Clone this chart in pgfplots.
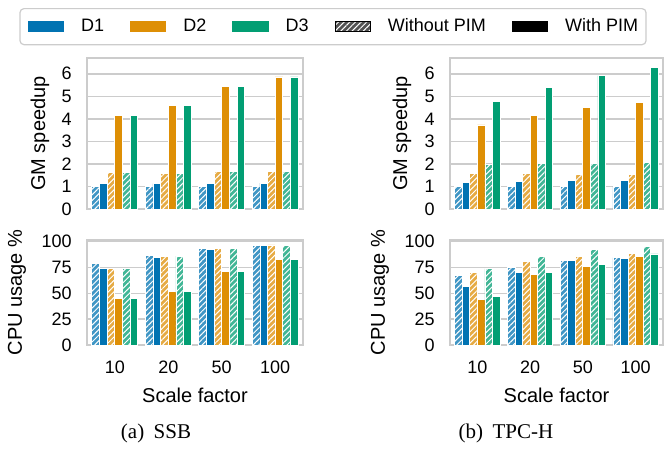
\documentclass[border=0pt]{standalone}
\usepackage{pgfplots}
\pgfplotsset{compat=1.18}
\usepackage{pgfplotstable}
\usetikzlibrary{patterns.meta}
\usepackage{fontspec}
\setmainfont{Liberation Sans}
\newfontfamily\capfont{Liberation Serif}
\definecolor{D1}{HTML}{0173B2}
\definecolor{D2}{HTML}{DE8F05}
\definecolor{D3}{HTML}{029E73}
\definecolor{gridc}{HTML}{CCCCCC}

\pgfplotstableread{
x d1h d1s d2h d2s d3h d3s
0 1.00 1.12 1.63 4.17 1.63 4.17
1 1.00 1.13 1.57 4.60 1.57 4.60
2 0.99 1.15 1.66 5.44 1.66 5.44
3 1.00 1.15 1.68 5.86 1.68 5.86
}\ssbsp
\pgfplotstableread{
x d1h d1s d2h d2s d3h d3s
0 1.00 1.19 1.56 3.73 1.99 4.78
1 1.00 1.22 1.56 4.14 2.04 5.40
2 1.00 1.27 1.52 4.51 2.04 5.92
3 1.00 1.25 1.55 4.73 2.08 6.29
}\tpcsp
\pgfplotstableread{
x d1h d1s d2h d2s d3h d3s
0 78.7 74.4 73.8 45.4 73.8 45.4
1 86.7 84.5 86.0 51.8 86.0 51.8
2 93.2 92.5 93.2 71.2 93.2 71.2
3 96.1 96.0 96.7 82.7 96.4 82.7
}\ssbcpu
\pgfplotstableread{
x d1h d1s d2h d2s d3h d3s
0 67.3 57.0 70.0 44.4 73.8 46.7
1 74.8 70.5 80.6 68.0 85.8 70.5
2 81.6 81.6 85.8 76.1 92.2 78.3
3 84.5 83.8 88.3 85.8 95.4 88.0
}\tpccpu

\pgfplotsset{
  base/.style={
    scale only axis, ybar, bar width=0.143,
    xmin=-0.52, xmax=3.52, ymin=0,
    axis line style={gridc, line width=0.9pt},
    ymajorgrids, grid style={gridc, line width=0.75pt},
    major tick length=0, tick style={draw=none},
    ticklabel style={font=\fontsize{9}{10}\selectfont},
    /pgf/number format/assume math mode=true,
    yticklabel style={anchor=east, inner sep=0pt, xshift=-7.5pt},
    label style={font=\fontsize{10}{12}\selectfont},
    clip=false,
  },
  topax/.style={base, height=75.5pt, ymax=6.7, ytick={0,1,2,3,4,5,6}, xtick=\empty,
    ylabel={GM speedup}},
  botax/.style={base, height=52.5pt, ymax=101.5, ytick={0,25,50,75,100},
    xtick={0,1,2,3}, xticklabels={10,20,50,100},
    xticklabel style={anchor=center, inner sep=0pt, yshift=-11pt},
    xlabel={Scale factor},
    xlabel style={at={(axis description cs:0.5,-0.476)}, anchor=center},
    ylabel={CPU usage \%}},
  hb/.style={fill=#1!75!white, draw=white, line width=0.4pt,
    postaction={pattern={Lines[angle=45,distance=2pt,line width=0.5pt]}, pattern color=white}, forget plot},
  sb/.style={fill=#1, draw=white, line width=0.4pt, forget plot},
}

\newcommand{\bars}[1]{%
  \addplot[hb=D1, bar shift=-0.3575] table[x=x,y=d1h]{#1};
  \addplot[sb=D1, bar shift=-0.2145] table[x=x,y=d1s]{#1};
  \addplot[hb=D2, bar shift=-0.0715] table[x=x,y=d2h]{#1};
  \addplot[sb=D2, bar shift=0.0715] table[x=x,y=d2s]{#1};
  \addplot[hb=D3, bar shift=0.2145] table[x=x,y=d3h]{#1};
  \addplot[sb=D3, bar shift=0.3575] table[x=x,y=d3s]{#1};
}

\begin{document}
\begin{tikzpicture}
\useasboundingbox (0,0) rectangle (332pt,-225.5pt);
% left top
\begin{axis}[topax, at={(43.5pt,-29pt)}, anchor=north west, width=108pt,
  ylabel style={at={(axis description cs:-0.2176,0.5)}, anchor=center},
  legend columns=5,
  legend style={at={(1.139,1.331)}, anchor=north, draw=gridc, line width=0.6pt,
    rounded corners=2pt, font=\fontsize{9}{10}\selectfont,
    nodes={inner sep=0pt}, inner xsep=4pt, inner ysep=5pt,
    /tikz/every odd column/.append style={column sep=8.5pt},
    /tikz/every even column/.append style={column sep=13pt}},
]
\bars{\ssbsp}
\addlegendimage{legend image code/.code={\fill[D1, sharp corners] (0pt,-2.5pt) rectangle (17.5pt,2.5pt);}}
\addlegendentry{D1}
\addlegendimage{legend image code/.code={\fill[D2, sharp corners] (0pt,-2.5pt) rectangle (17.5pt,2.5pt);}}
\addlegendentry{D2}
\addlegendimage{legend image code/.code={\fill[D3, sharp corners] (0pt,-2.5pt) rectangle (17.5pt,2.5pt);}}
\addlegendentry{D3}
\addlegendimage{legend image code/.code={\fill[black!68, sharp corners] (0pt,-2.5pt) rectangle (17.5pt,2.5pt);
  \fill[sharp corners, pattern={Lines[angle=45,distance=2pt,line width=0.5pt]}, pattern color=white] (0pt,-2.5pt) rectangle (17.5pt,2.5pt);}}
\addlegendentry{Without PIM}
\addlegendimage{legend image code/.code={\fill[black, sharp corners] (0pt,-2.5pt) rectangle (17.5pt,2.5pt);}}
\addlegendentry{With PIM}
\end{axis}
% left bottom
\begin{axis}[botax, at={(43.5pt,-120pt)}, anchor=north west, width=108pt,
  ylabel style={at={(axis description cs:-0.324,0.5)}, anchor=center}]
\bars{\ssbcpu}
\end{axis}
% right top
\begin{axis}[topax, at={(225pt,-29pt)}, anchor=north west, width=106.5pt,
  ylabel style={at={(axis description cs:-0.2254,0.5)}, anchor=center}]
\bars{\tpcsp}
\end{axis}
% right bottom
\begin{axis}[botax, at={(225pt,-120pt)}, anchor=north west, width=106.5pt,
  ylabel style={at={(axis description cs:-0.3286,0.5)}, anchor=center}]
\bars{\tpccpu}
\end{axis}
\node[font=\capfont\fontsize{10.5}{12}\selectfont] at (78pt,-216.5pt) {(a)\hspace{0.45em}SSB};
\node[font=\capfont\fontsize{10.5}{12}\selectfont] at (253pt,-216.5pt) {(b)\hspace{0.45em}TPC-H};
\end{tikzpicture}
\end{document}
